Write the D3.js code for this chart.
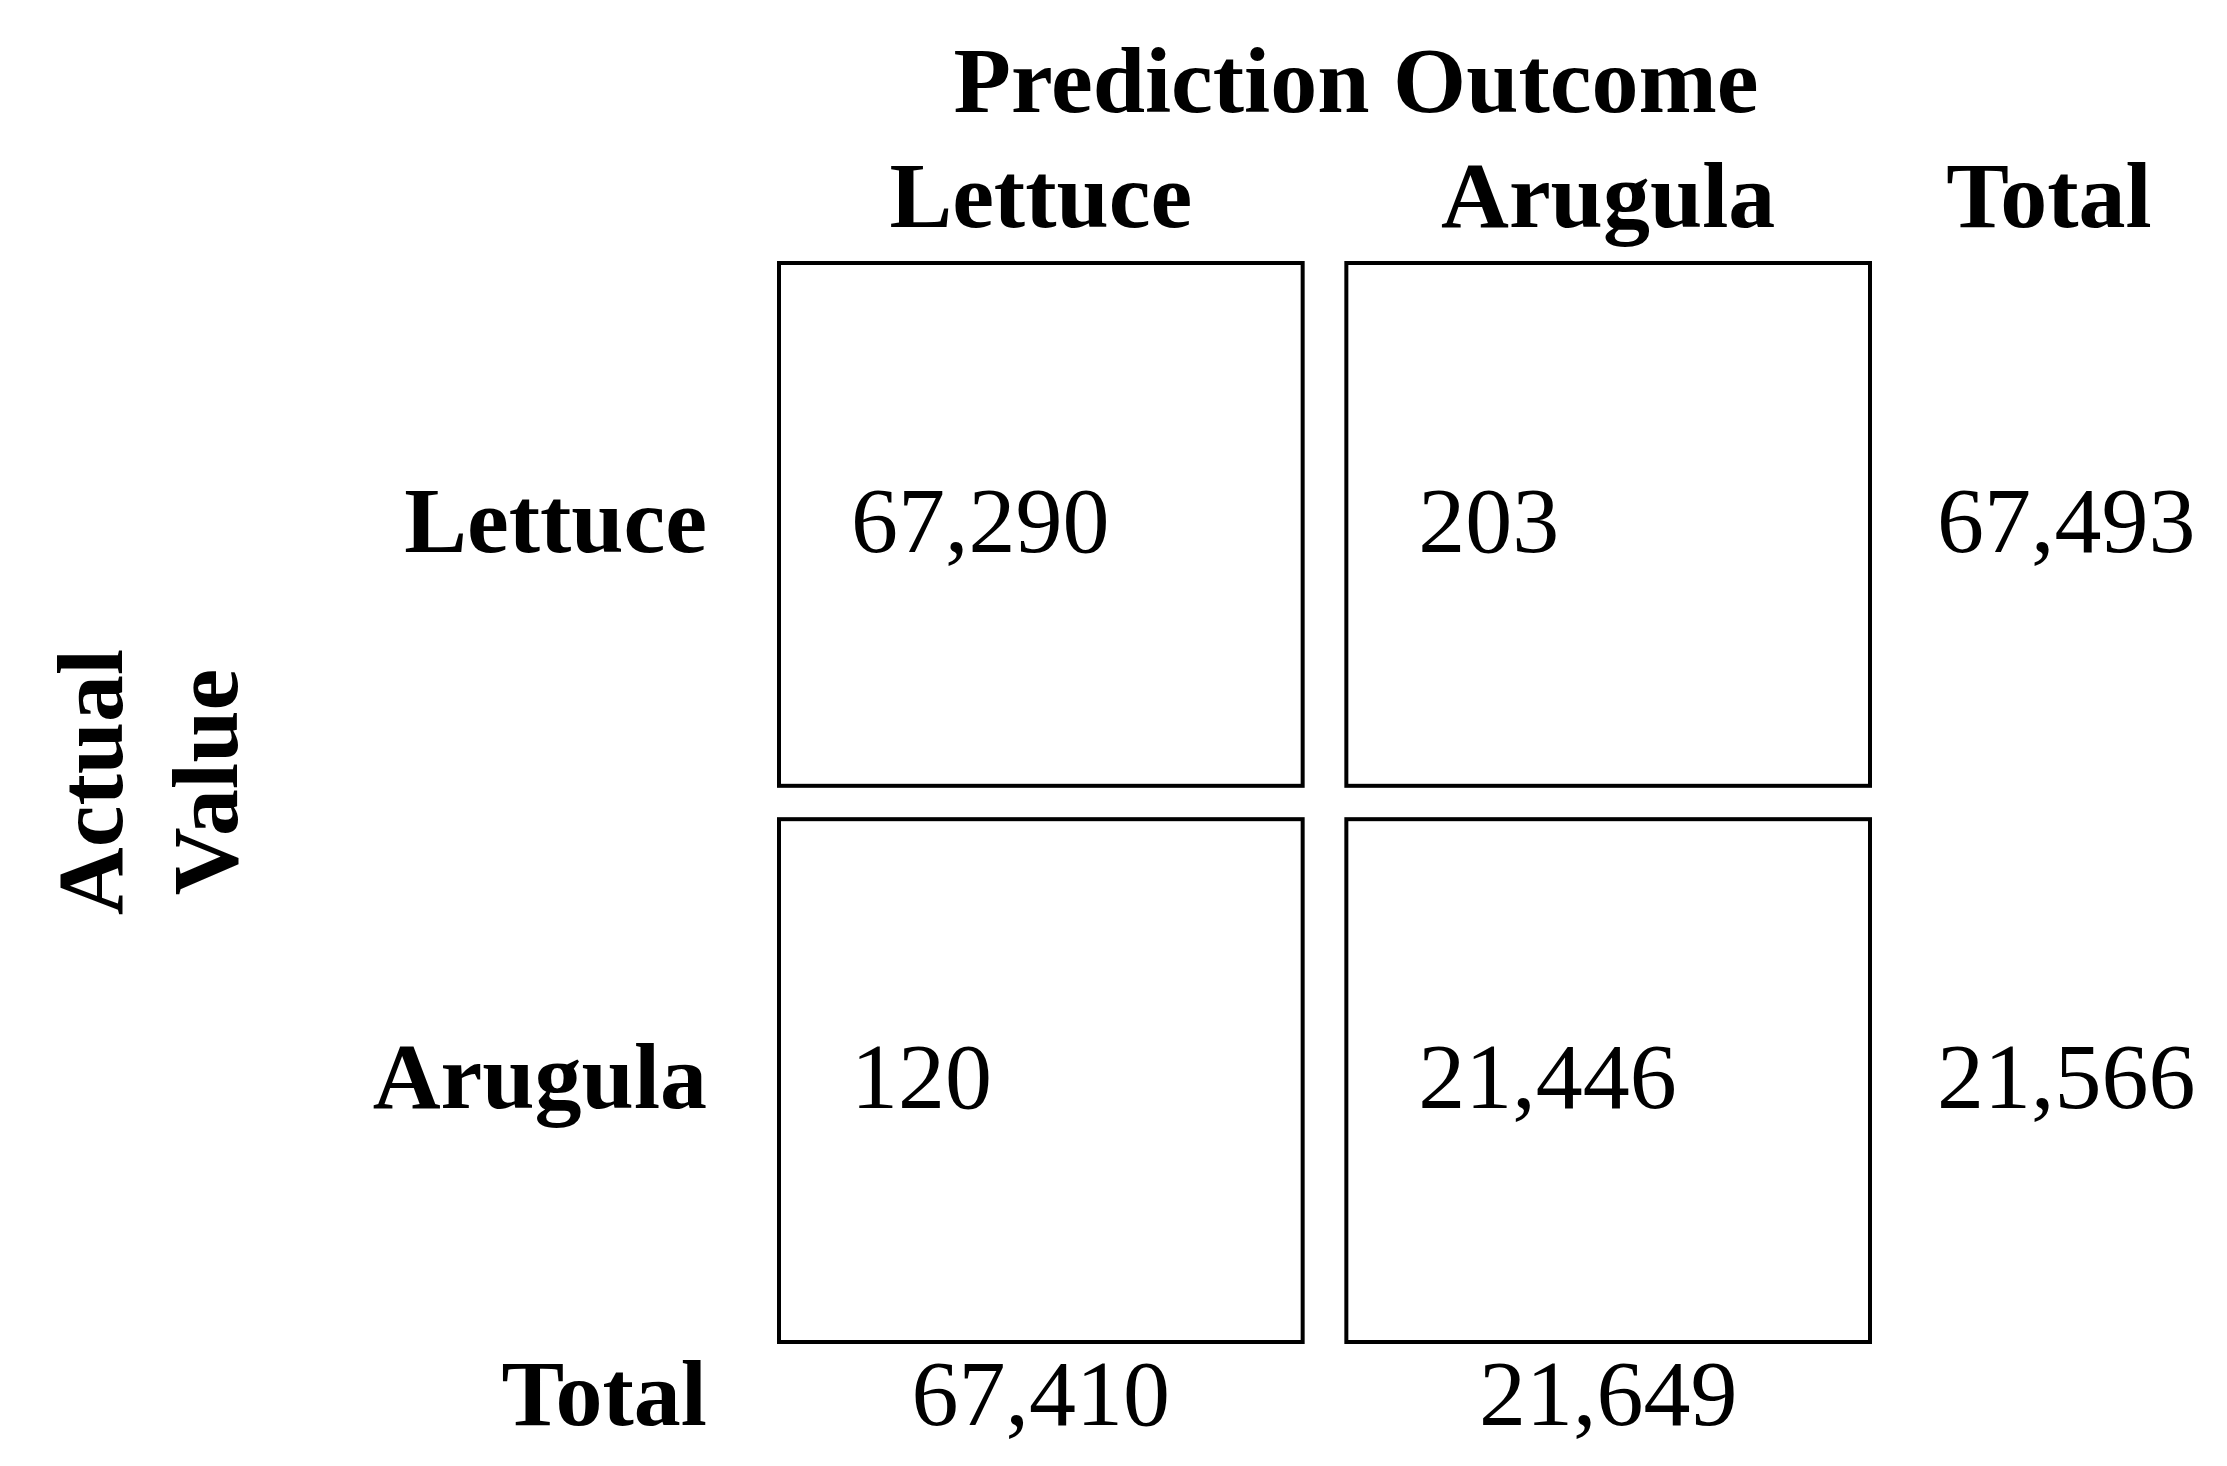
<!DOCTYPE html>
<html><head><meta charset="utf-8">
<script src="https://cdn.jsdelivr.net/npm/d3@7"></script>
<style>body{margin:0;background:#fff}text{font-family:"Liberation Serif","DejaVu Serif",serif;fill:#000}</style>
</head><body><div id="canvas"></div>
<script>
var classes = ["Lettuce", "Arugula"];
var cells = [[67290, 203], [120, 21446]];
var rowTotals = [67493, 21566];
var colTotals = [67410, 21649];

var fmt = d3.format(",");
var svg = d3.select("#canvas").append("svg").attr("width", 2227).attr("height", 1466);

// grid scales: columns and rows of the matrix
var x = d3.scaleBand().domain(classes).range([779, 1870]).paddingInner(0.077);
var y = d3.scaleBand().domain(classes).range([263, 1342]).paddingInner(0.06);

svg.append("text").attr("x", 1356).attr("y", 112).attr("text-anchor", "middle")
  .attr("font-size", 94).attr("font-weight", "bold").text("Prediction Outcome");

classes.forEach(function(c, i) {
  svg.append("text").attr("x", x(c) + x.bandwidth() / 2).attr("y", 227).attr("text-anchor", "middle")
    .attr("font-size", 94).attr("font-weight", "bold").text(c);
  svg.append("text").attr("x", 707).attr("y", y(c) + 289).attr("text-anchor", "end")
    .attr("font-size", 94).attr("font-weight", "bold").text(c);
  svg.append("text").attr("x", 1937).attr("y", y(c) + 289)
    .attr("font-size", 94).text(fmt(rowTotals[i]));
  svg.append("text").attr("x", x(c) + x.bandwidth() / 2).attr("y", 1425).attr("text-anchor", "middle")
    .attr("font-size", 94).text(fmt(colTotals[i]));
});

svg.append("text").attr("x", 2049).attr("y", 227).attr("text-anchor", "middle")
  .attr("font-size", 94).attr("font-weight", "bold").text("Total");
svg.append("text").attr("x", 707).attr("y", 1425).attr("text-anchor", "end")
  .attr("font-size", 94).attr("font-weight", "bold").text("Total");

cells.forEach(function(row, r) {
  row.forEach(function(v, c) {
    svg.append("rect").attr("x", x(classes[c])).attr("y", y(classes[r]))
      .attr("width", x.bandwidth()).attr("height", y.bandwidth())
      .attr("fill", "none").attr("stroke", "#000").attr("stroke-width", 4);
    svg.append("text").attr("x", x(classes[c]) + 72).attr("y", y(classes[r]) + 289)
      .attr("font-size", 94).text(fmt(v));
  });
});

var ax = svg.append("text").attr("transform", "translate(122,782) rotate(-90)")
  .attr("text-anchor", "middle").attr("font-size", 94).attr("font-weight", "bold");
ax.append("tspan").attr("x", 0).attr("dy", 0).text("Actual");
ax.append("tspan").attr("x", 0).attr("dy", 115).text("Value");
</script></body></html>
